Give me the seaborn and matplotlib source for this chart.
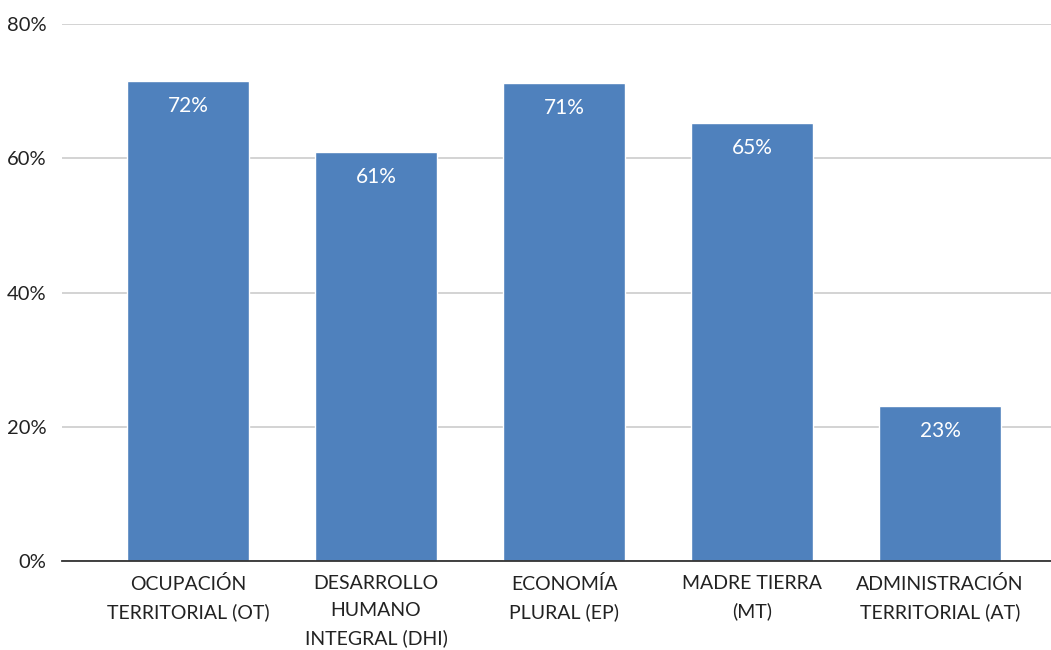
import matplotlib
matplotlib.use("Agg")
import matplotlib.pyplot as plt
import seaborn as sns
import pandas as pd

categories = ["OCUPACIÓN\nTERRITORIAL (OT)", "DESARROLLO\nHUMANO\nINTEGRAL (DHI)",
              "ECONOMÍA\nPLURAL (EP)", "MADRE TIERRA\n(MT)", "ADMINISTRACIÓN\nTERRITORIAL (AT)"]
values = [71.5, 60.9, 71.2, 65.2, 23.1]
labels = ["72%", "61%", "71%", "65%", "23%"]
yticks = [0, 20, 40, 60, 80]

sns.set_theme(style="white")
plt.rcParams['font.family'] = ['Lato', 'DejaVu Sans']

fig = plt.figure(figsize=(10.51, 6.5), dpi=100)
ax = fig.add_axes([62/1051, 1-561/650, 1-62/1051, (561-24)/650])

df = pd.DataFrame({"cat": categories, "val": values})
sns.barplot(data=df, x="cat", y="val", color="#4F81BD", saturation=1, width=0.65, ax=ax, zorder=3)

ax.set_ylim(0, 80)
ax.set_xlim(-0.67, 4.59)
ax.set_yticks(yticks)
ax.set_yticklabels([f"{t}%" for t in yticks], fontsize=14.5, color="#222222")
ax.yaxis.grid(True, color="#cccccc", linewidth=1.2, zorder=0)
ax.set_axisbelow(True)
for s in ["top", "right", "left"]:
    ax.spines[s].set_visible(False)
ax.spines["bottom"].set_color("#333333")
ax.spines["bottom"].set_linewidth(1.3)
ax.spines["bottom"].set_zorder(4)
ax.tick_params(axis="y", length=0, pad=11)
ax.tick_params(axis="x", length=0, pad=10)
ax.set_xticks(range(len(categories)))
ax.set_xticklabels(categories, fontsize=14, color="#222222", linespacing=1.72, va="top")
ax.set_xlabel("")
ax.set_ylabel("")

for i, (v, l) in enumerate(zip(values, labels)):
    ax.annotate(l, (i, v), xytext=(0, -25), textcoords="offset pixels",
                ha="center", va="center", color="white", fontsize=15)

fig.savefig("out.png", dpi=100)
